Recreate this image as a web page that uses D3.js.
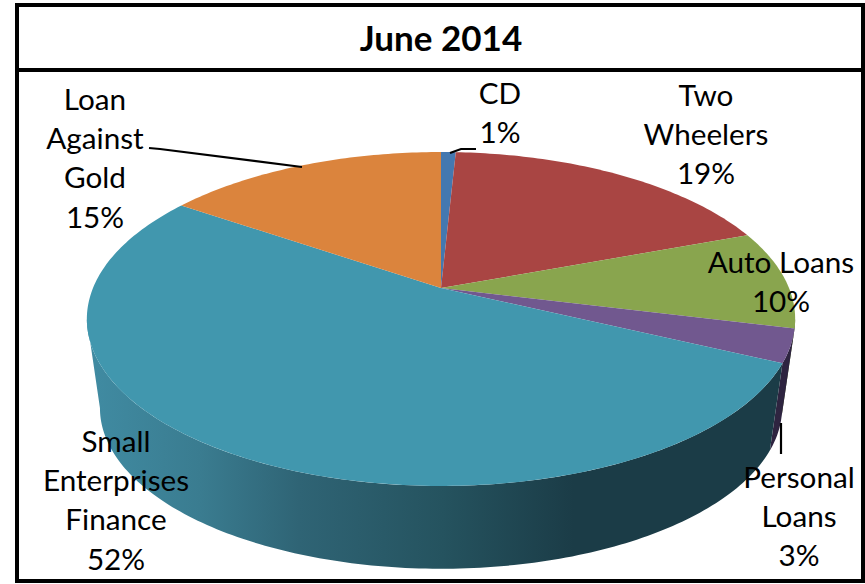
<!DOCTYPE html>
<html>
<head>
<meta charset="utf-8">
<script src="https://cdn.jsdelivr.net/npm/d3@7"></script>
<style>
  html, body { margin: 0; padding: 0; background: #fff; }
  text { font-family: Lato, sans-serif; fill: #000; }
</style>
</head>
<body>
<div id="graph"></div>
<script>
const title = "June 2014";
const categories = ["CD", "Two Wheelers", "Auto Loans", "Personal Loans", "Small Enterprises Finance", "Loan Against Gold"];
const shares = [0.8, 18.5, 9.5, 3.2, 52.4, 15.4];
const topColors = ["#4478b0", "#a94543", "#89a54e", "#71588f", "#4197ae", "#db843d"];
const sideColors = ["#274565", "#632826", "#50602d", "#2e2440", "url(#smallWall)", "#7f4d23"];

// how each label is wrapped, and where it sits
const labelLines = [["CD"], ["Two", "Wheelers"], ["Auto Loans"], ["Personal", "Loans"], ["Small", "Enterprises", "Finance"], ["Loan", "Against", "Gold"]];
const labelCenters = [[500, 104], [706, 106], [781, 273], [799, 488], [116, 452], [95, 110]];
const leaders = [
  [[450, 153], [461, 149], [476, 149]],
  [[781, 423], [781, 454]],
  [[149, 148], [160, 149], [302, 167]]
];

let svg = d3.select("#graph").append("svg")
  .attr("width", 865)
  .attr("height", 584)
  .style("display", "block");

// Wall shading runs left to right
let grad = svg.append("defs").append("linearGradient")
  .attr("id", "smallWall")
  .attr("gradientUnits", "userSpaceOnUse")
  .attr("x1", 90).attr("x2", 640).attr("y1", 0).attr("y2", 0);
[[0, "#408ba2"], [0.2, "#3a7c90"], [0.38, "#2f6475"], [0.64, "#25535f"], [0.88, "#1b3c47"], [1, "#1b3c47"]]
  .forEach(function (s) {
    grad.append("stop").attr("offset", s[0]).attr("stop-color", s[1]);
  });

// Circle point -> perspective plane. k tilts the disc so the hub sits above the ellipse centre
const k = 0.1856;
let xScale = d3.scaleLinear().domain([-1, 1]).range([441 - 348, 441 + 348]);
let yScale = d3.scaleLinear().domain([-1, 1]).range([288 - 161.2, 288 + 161.2]);

function topPoint(angle) {
  let u = Math.sin(angle), v = -Math.cos(angle), w = 1 - k * v;
  return [xScale(u / w), yScale(v / w)];
}

// Bottom rim is further from the camera, so a bit smaller
function bottomPoint(angle) {
  let p = topPoint(angle);
  return [441 + (p[0] - 441) * 0.963, 408 + (p[1] - 319) * 0.963];
}

function rim(a0, a1, fn) {
  let n = Math.max(2, Math.ceil((a1 - a0) * 60));
  return d3.range(n + 1).map(function (i) {
    return fn(a0 + (a1 - a0) * i / n);
  });
}

let slices = d3.pie().sort(null)(shares);
let line = d3.line();
let hub = [xScale(0), yScale(0)];

// Only the front of the disc shows a wall, between the two side tangents
const wallStart = Math.PI - Math.acos(k);
const wallEnd = Math.PI + Math.acos(k);

svg.append("g").selectAll("path")
  .data(slices)
  .enter().append("path")
  .attr("fill", function (d, i) { return sideColors[i]; })
  .attr("d", function (d) {
    let a0 = Math.max(d.startAngle, wallStart), a1 = Math.min(d.endAngle, wallEnd);
    if (a1 <= a0) return null;
    return line(rim(a0, a1, topPoint).concat(rim(a0, a1, bottomPoint).reverse())) + "Z";
  });

svg.append("g").selectAll("path")
  .data(slices)
  .enter().append("path")
  .attr("fill", function (d, i) { return topColors[i]; })
  .attr("d", function (d) {
    return line([hub].concat(rim(d.startAngle, d.endAngle, topPoint))) + "Z";
  });

// Leader lines
svg.append("g").selectAll("path")
  .data(leaders)
  .enter().append("path")
  .attr("fill", "none")
  .attr("stroke", "#000")
  .attr("stroke-width", 2.2)
  .attr("d", line);

// Data labels
let labels = svg.append("g").selectAll("text")
  .data(slices)
  .enter().append("text")
  .attr("text-anchor", "middle")
  .style("font-size", "29.7px");

labels.each(function (d, i) {
  let rows = labelLines[i].concat([Math.round(d.data) + "%"]);
  d3.select(this).selectAll("tspan")
    .data(rows)
    .enter().append("tspan")
    .attr("x", labelCenters[i][0])
    .attr("y", function (r, j) { return labelCenters[i][1] + j * 39.2; })
    .text(function (r) { return r; });
});

// Frame and title
svg.append("rect")
  .attr("x", 17).attr("y", 5)
  .attr("width", 846).attr("height", 576)
  .attr("fill", "none")
  .attr("stroke", "#000")
  .attr("stroke-width", 4);

svg.append("line")
  .attr("x1", 17).attr("x2", 863)
  .attr("y1", 70).attr("y2", 70)
  .attr("stroke", "#000")
  .attr("stroke-width", 4);

svg.append("text")
  .attr("x", 441).attr("y", 51)
  .attr("text-anchor", "middle")
  .style("font-size", "35px")
  .style("font-weight", "700")
  .text(title);
</script>
</body>
</html>
